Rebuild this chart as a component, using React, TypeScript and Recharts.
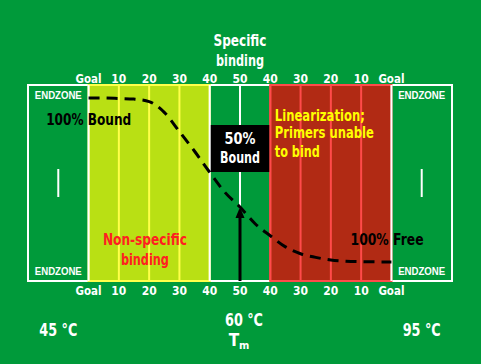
import React from "react";
import {
  ComposedChart,
  Line,
  XAxis,
  YAxis,
  ReferenceArea,
  ReferenceLine,
  ReferenceDot,
} from "recharts";

// field runs from one goal (0) to the other (100), endzones are 20 yards deep
const yardTicks = [0, 10, 20, 30, 40, 50, 60, 70, 80, 90, 100];
const yardLabels = ["Goal", "10", "20", "30", "40", "50", "40", "30", "20", "10", "Goal"];
const tempTicks = [-10, 50, 110];
const tempLabels = ["45 °C", "60 °C", "95 °C"];

// melting curve, % of primer bound
const curveYards = [0, 5, 10, 15, 20, 25, 30, 35, 40, 45, 50, 55, 60, 65, 70, 75, 80, 85, 90, 100];
const curveBound = [100, 100, 99.7, 99.3, 97.8, 91.2, 79.5, 67.5, 54.7, 42.5, 33.5, 23.3, 16, 9.2, 5, 2.8, 1.2, 0.5, 0.2, 0];

const yellowLines = [10, 20, 30];
const redLines = [70, 80, 90];

const data = curveYards.map((yard, i) => ({ yard, bound: curveBound[i] }));

const BG = "#009a3a";
const LIME = "#b9e014";
const LIME_LINE = "#ffff4a";
const RED = "#b12a14";
const RED_LINE = "#ff4a4a";
const NARROW = "'Liberation Sans Narrow', 'DejaVu Sans Condensed', 'Arial Narrow', sans-serif";
const PLAIN = "'Liberation Sans', Arial, sans-serif";

const Y_MIN = -11.6;
const Y_MAX = 107.9;

function note(
  text: string,
  color: string,
  size: number,
  width: number,
  anchor: "start" | "middle" | "end" = "middle",
  family = NARROW
) {
  return (p: any) => (
    <text
      x={p.cx}
      y={p.cy}
      fill={color}
      fontSize={size}
      fontWeight="bold"
      fontFamily={family}
      textAnchor={anchor}
      dominantBaseline="central"
      textLength={width}
      lengthAdjust="spacingAndGlyphs"
    >
      {text}
    </text>
  );
}

const YardTick = (offset: number) => (p: any) => {
  const i = yardTicks.indexOf(p.payload.value);
  const label = yardLabels[i];
  return (
    <text
      x={p.x}
      y={p.y + offset}
      fill="#fff"
      fontSize={13}
      fontWeight="bold"
      fontFamily={NARROW}
      textAnchor="middle"
      dominantBaseline="central"
      textLength={label === "Goal" ? 26 : 15}
      lengthAdjust="spacingAndGlyphs"
    >
      {label}
    </text>
  );
};

const TempTick = (p: any) => {
  const i = tempTicks.indexOf(p.payload.value);
  const style = { fill: "#fff", fontSize: 17, fontWeight: "bold" as const, fontFamily: NARROW };
  if (i === 1) {
    return (
      <g>
        <text x={p.x + 4} y={p.y + 19} textAnchor="middle" dominantBaseline="central" textLength={38} lengthAdjust="spacingAndGlyphs" {...style}>
          {tempLabels[i]}
        </text>
        <text x={p.x - 1} y={p.y + 39} textAnchor="middle" dominantBaseline="central" {...style}>
          T<tspan fontSize={11} dy={5}>m</tspan>
        </text>
      </g>
    );
  }
  return (
    <text x={p.x} y={p.y + 29} textAnchor="middle" dominantBaseline="central" textLength={38} lengthAdjust="spacingAndGlyphs" {...style}>
      {tempLabels[i]}
    </text>
  );
};

export default function App() {
  return (
    <div style={{ position: "absolute", left: 0, top: 0, width: 481, height: 364, background: BG }}>
      <ComposedChart
        width={481}
        height={364}
        data={data}
        margin={{ top: 65, right: 29, bottom: 3, left: 28 }}
      >
        <XAxis
          dataKey="yard"
          type="number"
          domain={[-20, 120]}
          ticks={yardTicks}
          interval={0}
          axisLine={false}
          tickLine={false}
          tickSize={0}
          tickMargin={0}
          height={20}
          tick={YardTick(9)}
        />
        <XAxis
          xAxisId="temp"
          dataKey="yard"
          type="number"
          domain={[-20, 120]}
          ticks={tempTicks}
          interval={0}
          axisLine={false}
          tickLine={false}
          tickSize={0}
          tickMargin={0}
          height={60}
          tick={TempTick}
        />
        <XAxis
          xAxisId="top"
          orientation="top"
          dataKey="yard"
          type="number"
          domain={[-20, 120]}
          ticks={yardTicks}
          interval={0}
          axisLine={false}
          tickLine={false}
          tickSize={0}
          tickMargin={0}
          height={20}
          tick={YardTick(-7)}
        />
        <YAxis hide type="number" domain={[Y_MIN, Y_MAX]} allowDataOverflow />

        {/* endzones + field border */}
        <ReferenceArea x1={-20} x2={120} y1={Y_MIN} y2={Y_MAX} fill="none" stroke="#fff" strokeWidth={2} ifOverflow="visible" />
        <ReferenceArea x1={0} x2={40} y1={Y_MIN} y2={Y_MAX} fill={LIME} fillOpacity={1} stroke={LIME_LINE} strokeWidth={2} ifOverflow="visible" />
        <ReferenceArea x1={60} x2={100} y1={Y_MIN} y2={Y_MAX} fill={RED} fillOpacity={1} stroke={RED_LINE} strokeWidth={2} ifOverflow="visible" />
        <ReferenceArea x1={40} x2={60} y1={54.9} y2={83.5} fill="#000" fillOpacity={1} ifOverflow="visible" />

        <ReferenceLine x={0} stroke="#fff" strokeWidth={2} ifOverflow="visible" />
        <ReferenceLine x={100} stroke="#fff" strokeWidth={2} ifOverflow="visible" />
        <ReferenceLine x={40} stroke="#fff" strokeWidth={2} ifOverflow="visible" />
        {yellowLines.map((x) => (
          <ReferenceLine key={`y${x}`} x={x} stroke={LIME_LINE} strokeWidth={2} ifOverflow="visible" />
        ))}
        {redLines.map((x) => (
          <ReferenceLine key={`r${x}`} x={x} stroke={RED_LINE} strokeWidth={2} ifOverflow="visible" />
        ))}
        <ReferenceLine x={60} stroke={RED_LINE} strokeWidth={2} ifOverflow="visible" />
        <ReferenceLine segment={[{ x: 50, y: Y_MAX }, { x: 50, y: 83.5 }]} stroke="#fff" strokeWidth={2} ifOverflow="visible" />
        <ReferenceLine segment={[{ x: 50, y: 54.9 }, { x: 50, y: Y_MIN }]} stroke="#fff" strokeWidth={2} ifOverflow="visible" />

        {/* hash marks */}
        <ReferenceLine segment={[{ x: -10, y: 56.7 }, { x: -10, y: 39.6 }]} stroke="#fff" strokeWidth={2} ifOverflow="visible" />
        <ReferenceLine segment={[{ x: 110, y: 56.7 }, { x: 110, y: 39.6 }]} stroke="#fff" strokeWidth={2} ifOverflow="visible" />

        {/* Tm arrow */}
        <ReferenceLine segment={[{ x: 50, y: Y_MIN }, { x: 50, y: 30 }]} stroke="#000" strokeWidth={3} ifOverflow="visible" />
        <ReferenceDot
          x={50}
          y={33.5}
          r={0}
          ifOverflow="visible"
          shape={(p: any) => (
            <polygon points={`${p.cx},${p.cy} ${p.cx - 4.5},${p.cy + 11} ${p.cx + 4.5},${p.cy + 11}`} fill="#000" />
          )}
        />

        <Line
          type="monotone"
          dataKey="bound"
          stroke="#000"
          strokeWidth={3}
          strokeDasharray="11 7"
          dot={false}
          activeDot={false}
          isAnimationActive={false}
        />

        <ReferenceDot x={50} y={134.6} r={0} ifOverflow="visible" shape={note("Specific", "#fff", 15, 53)} />
        <ReferenceDot x={50} y={122.8} r={0} ifOverflow="visible" shape={note("binding", "#fff", 15, 48)} />
        <ReferenceDot x={-14} y={86.6} r={0} ifOverflow="visible" shape={note("100% Bound", "#000", 16, 85, "start")} />
        <ReferenceDot x={50} y={75} r={0} ifOverflow="visible" shape={note("50%", "#fff", 16, 31)} />
        <ReferenceDot x={50} y={63.4} r={0} ifOverflow="visible" shape={note("Bound", "#fff", 16, 40)} />
        <ReferenceDot x={61.5} y={89.6} r={0} ifOverflow="visible" shape={note("Linearization;", "#ffff00", 16, 90, "start")} />
        <ReferenceDot x={61.5} y={78.7} r={0} ifOverflow="visible" shape={note("Primers unable", "#ffff00", 16, 99, "start")} />
        <ReferenceDot x={61.5} y={67.1} r={0} ifOverflow="visible" shape={note("to bind", "#ffff00", 16, 45, "start")} />
        <ReferenceDot x={18.6} y={13.4} r={0} ifOverflow="visible" shape={note("Non-specific", "#ff2020", 16, 84)} />
        <ReferenceDot x={18.6} y={1.8} r={0} ifOverflow="visible" shape={note("binding", "#ff2020", 16, 48)} />
        <ReferenceDot x={110.6} y={13.4} r={0} ifOverflow="visible" shape={note("100% Free", "#000", 16, 73, "end")} />
        <ReferenceDot x={-10} y={101.2} r={0} ifOverflow="visible" shape={note("ENDZONE", "#fff", 10, 47, "middle", PLAIN)} />
        <ReferenceDot x={-10} y={-6.1} r={0} ifOverflow="visible" shape={note("ENDZONE", "#fff", 10, 47, "middle", PLAIN)} />
        <ReferenceDot x={110} y={101.2} r={0} ifOverflow="visible" shape={note("ENDZONE", "#fff", 10, 47, "middle", PLAIN)} />
        <ReferenceDot x={110} y={-6.1} r={0} ifOverflow="visible" shape={note("ENDZONE", "#fff", 10, 47, "middle", PLAIN)} />
      </ComposedChart>
    </div>
  );
}
